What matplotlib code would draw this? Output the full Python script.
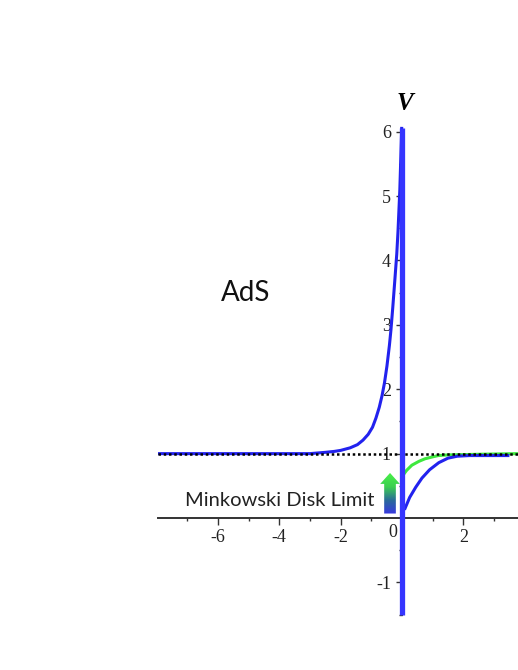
import numpy as np
import matplotlib
matplotlib.use("Agg")
import matplotlib.pyplot as plt
from matplotlib.patches import Polygon

# potential V, values
left_x = [-7.95, -3.0, -2.5, -2.2, -2.0, -1.69, -1.45, -1.27, -1.1, -0.96, -0.85, -0.74,
          -0.65, -0.57, -0.49, -0.41, -0.36, -0.30, -0.24, -0.17, -0.13, -0.07, -0.01]
left_v = [1.0, 1.0, 1.02, 1.035, 1.05, 1.09, 1.14, 1.21, 1.3, 1.41, 1.55, 1.72,
          1.90, 2.10, 2.36, 2.68, 2.92, 3.27, 3.65, 4.1, 4.45, 5.1, 6.05]

right_x = [0.1, 0.25, 0.45, 0.65, 0.9, 1.2, 1.5, 1.8, 2.2, 3.45]
right_v = [0.15, 0.32, 0.48, 0.62, 0.75, 0.86, 0.93, 0.96, 0.97, 0.97]

green_x = [0.04, 0.15, 0.32, 0.55, 0.75, 1.0, 1.18, 1.5, 2.5, 3.78]
green_v = [0.67, 0.74, 0.82, 0.88, 0.92, 0.95, 0.97, 0.98, 0.99, 1.0]

wall_x = [0, 0]
wall_v = [-1.5, 6.05]

asymptote = 1.0

xticks_major = [-6, -4, -2, 2]
xticks_minor = [-7, -5, -3, -1, 1, 3]
yticks_major = [-1, 1, 2, 3, 4, 5, 6]
yticks_minor = [-1.5, -0.5, 0.5, 1.5, 2.5, 3.5, 4.5, 5.5]

blue = "#2222ee"
green = "#3ee83e"

fig = plt.figure(figsize=(5.18, 6.70), dpi=100)
ax = fig.add_axes([0.305, 0.0634, 0.695, 0.769])

ax.plot(left_x, left_v, color=blue, lw=2.2, zorder=3)
ax.plot(green_x, green_v, color=green, lw=2.2, zorder=3)
ax.plot(right_x, right_v, color=blue, lw=2.2, zorder=3)
ax.axhline(asymptote, color="black", lw=1.8, ls=(0, (1, 1.1)), zorder=4)
ax.plot(wall_x, wall_v, color="#3535ff", lw=3.8, zorder=5, solid_capstyle="butt")

# gradient arrow (blue -> green)
ax_c, bot, hb, tip = -0.39, 0.07, 0.53, 0.70
sw, hw = 0.19, 0.32
arrow = Polygon([(ax_c - sw, bot), (ax_c + sw, bot), (ax_c + sw, hb), (ax_c + hw, hb),
                 (ax_c, tip), (ax_c - hw, hb), (ax_c - sw, hb)], closed=True,
                facecolor="none", edgecolor="none")
ax.add_patch(arrow)
grad = np.linspace(0, 1, 100).reshape(-1, 1)
cmap = matplotlib.colors.LinearSegmentedColormap.from_list(
    "bg", ["#3838e0", "#2a6a9a", "#3ccf50", "#48f048"])
im = ax.imshow(grad, extent=[ax_c - hw, ax_c + hw, bot, tip], origin="lower",
               cmap=cmap, aspect="auto", zorder=4)
im.set_clip_path(arrow)

ax.set_xlim(-7.95, 3.78)
ax.set_ylim(-1.7, 6.3)

for s in ["top", "right"]:
    ax.spines[s].set_visible(False)
ax.spines["left"].set_position(("data", 0))
ax.spines["bottom"].set_position(("data", 0))
ax.spines["left"].set_bounds(-1.5, 6.05)
ax.spines["bottom"].set_color("#333333")
ax.spines["bottom"].set_linewidth(1.4)
ax.spines["left"].set_color("#333333")

ax.set_xticks(xticks_major)
ax.set_xticks(xticks_minor, minor=True)
ax.set_yticks(yticks_major)
ax.set_yticks(yticks_minor, minor=True)
ax.set_xticklabels(["-6", "-4", "-2", "2"])
ax.set_yticklabels(["-1", "1", "2", "3", "4", "5", "6"])
for lab in ax.get_xticklabels() + ax.get_yticklabels():
    lab.set_fontfamily("Liberation Serif")
    lab.set_fontsize(13)
    lab.set_color("#222222")
ax.tick_params(axis="x", which="major", direction="out", length=5, width=1, pad=3, color="#333333")
ax.tick_params(axis="x", which="minor", direction="out", length=2.5, width=1, color="#333333")
ax.tick_params(axis="y", which="major", direction="out", length=4, width=1, pad=4, color="#333333")
ax.tick_params(axis="y", which="minor", direction="out", length=2.5, width=1, color="#333333")

ax.text(-0.29, -0.22, "0", ha="center", va="center", fontfamily="Liberation Serif",
        fontsize=13, color="#222222")
ax.text(0.1, 6.44, "V", ha="center", va="center", fontfamily="Liberation Serif",
        fontsize=18, fontweight="bold", fontstyle="italic")
ax.text(-5.11, 3.49, "AdS", ha="center", va="center", fontfamily="Lato", fontsize=20,
        color="#111111")
ax.text(-0.91, 0.19, "Minkowski Disk Limit", ha="right", va="baseline", fontfamily="Lato",
        fontsize=14.5, color="#222222")

fig.savefig("out.png", dpi=100)
